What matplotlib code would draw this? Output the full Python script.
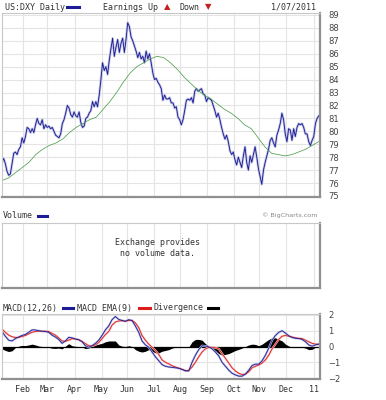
import numpy as np
import matplotlib.pyplot as plt

# date span (trading days)
start = '2010-01-07'
end_excl = '2011-01-08'
month_starts = ['2010-02-01', '2010-03-01', '2010-04-01', '2010-05-03', '2010-06-01',
                '2010-07-01', '2010-08-02', '2010-09-01', '2010-10-01', '2010-11-01',
                '2010-12-01', '2011-01-03']
month_labels = ['Feb', 'Mar', 'Apr', 'May', 'Jun', 'Jul', 'Aug', 'Sep', 'Oct', 'Nov', 'Dec', '11']

# US:DXY daily close
close = [77.6, 77.9, 77.5, 76.9, 76.6, 76.7, 77.5, 78.3, 78.4, 78.2, 78.6, 78.8, 79.5, 79.1, 79.6,
         80.3, 80.2, 79.9, 80.2, 79.9, 80.5, 81.0, 80.6, 80.5, 80.9, 80.2, 80.5, 80.3, 80.4, 80.2,
         80.3, 80.0, 79.7, 79.6, 79.5, 79.8, 80.6, 80.9, 81.4, 82.0, 81.8, 81.3, 81.1, 81.5, 81.2,
         81.1, 81.5,
         80.7, 80.3, 80.4, 81.0, 81.1, 81.4, 81.6, 82.3, 81.9, 82.3, 81.9, 82.8, 84.0, 85.3, 84.7,
         85.0, 84.4, 85.5, 86.4, 87.2, 85.8, 86.5, 87.1, 86.1, 86.8, 87.2, 86.1, 87.1, 88.4, 88.1,
         87.3, 87.0, 86.6, 86.2, 85.7, 86.1, 85.6, 85.8, 85.3, 86.2, 85.6, 86.0, 85.3, 84.5, 84.0,
         84.1, 83.8,
         83.6, 83.3, 82.4, 82.8, 82.5, 82.5, 82.6, 82.2, 82.2, 81.8, 81.9, 81.1, 80.9, 80.5, 80.9,
         81.6, 82.4, 82.5, 82.4, 82.6, 82.2, 83.1, 83.3, 83.1, 83.2, 83.3, 82.9, 82.8, 82.3, 82.6,
         82.5, 82.4, 82.0, 81.6, 81.1, 81.4, 80.9, 80.3, 79.8, 79.4, 79.7, 79.2, 78.5, 78.2, 78.4,
         77.8, 77.4,
         78.0, 77.6, 77.2, 78.1, 78.8, 77.6, 77.0, 78.1, 77.6, 78.2, 78.8, 78.0, 77.1, 76.5, 75.9,
         77.0, 77.6, 78.1, 78.6, 79.3, 79.5, 79.1, 78.8, 79.7, 80.1, 80.6, 81.4, 80.9, 79.8, 79.2,
         80.2, 80.1, 79.3, 80.2, 79.6, 80.3, 80.6, 80.5, 80.6, 80.3, 79.8, 79.8, 79.2, 78.9, 79.3,
         79.6, 80.6, 81.0, 81.2]

# moving average (green)
ma = [76.2, 76.4, 76.8, 77.2, 77.6, 78.2, 78.6, 78.9, 79.1, 79.4, 79.9, 80.3, 80.6, 80.9, 81.1,
      81.7, 82.3, 83.0, 83.8, 84.5, 85.0, 85.3, 85.6, 85.8, 85.7, 85.3, 84.8, 84.2, 83.7, 83.2,
      82.8, 82.5, 82.1, 81.7, 81.4, 81.0, 80.5, 80.2, 79.5, 78.8, 78.3, 78.2, 78.1, 78.2, 78.4,
      78.6, 78.9, 79.2]

# MACD(12,26) and its EMA(9)
macd = [0.95, 0.65, 0.4, 0.35, 0.5, 0.6, 0.7, 0.76, 0.9, 1.05, 1.05, 1.0, 0.97, 0.95, 0.9, 0.72,
        0.6, 0.45, 0.2, 0.35, 0.58, 0.55, 0.48, 0.43, 0.3, 0.05, -0.05, 0.05, 0.2, 0.4, 0.7, 1.05,
        1.3, 1.7, 1.9, 1.72, 1.65, 1.6, 1.7, 1.65, 1.3, 0.9, 0.35, 0.1, -0.05, -0.35, -0.65, -0.9,
        -1.15, -1.25, -1.3, -1.32, -1.35, -1.38, -1.45, -1.55, -1.55, -1.0, -0.55, -0.2, 0.05, 0.03,
        -0.02, -0.15, -0.35, -0.6, -1.0, -1.25, -1.5, -1.7, -1.8, -1.88, -1.88, -1.75, -1.5, -1.2,
        -1.12, -1.12, -0.9, -0.55, -0.1, 0.4, 0.7, 0.9, 1.0, 0.85, 0.68, 0.57, 0.52, 0.5, 0.45, 0.3,
        0.1, 0.02, 0.1, 0.15]
signal = [1.1, 0.9, 0.72, 0.62, 0.57, 0.58, 0.63, 0.7, 0.8, 0.9, 0.95, 0.97, 0.97, 0.97, 0.95, 0.83,
          0.72, 0.55, 0.35, 0.33, 0.4, 0.5, 0.47, 0.43, 0.33, 0.18, 0.05, 0.03, 0.1, 0.25, 0.5, 0.75,
          0.95, 1.35, 1.55, 1.62, 1.63, 1.6, 1.65, 1.65, 1.5, 1.2, 0.7, 0.4, 0.15, -0.05, -0.25, -0.5,
          -0.85, -1.0, -1.1, -1.22, -1.3, -1.37, -1.45, -1.52, -1.52, -1.3, -1.0, -0.65, -0.35, -0.15,
          -0.05, -0.05, -0.08, -0.15, -0.45, -0.75, -1.05, -1.35, -1.55, -1.7, -1.78, -1.75, -1.6, -1.35,
          -1.25, -1.17, -1.05, -0.85, -0.55, -0.15, 0.15, 0.45, 0.65, 0.7, 0.65, 0.6, 0.55, 0.52, 0.5,
          0.4, 0.3, 0.2, 0.15, 0.15]

price_ticks = list(range(75, 90))
macd_ticks = [-2, -1, 0, 1, 2]

ndays = int(np.busday_count(start, end_excl))
mpos = np.busday_count(start, month_starts)
diverg = np.array(macd) - np.array(signal)

W, H = 386, 400
mono = 'DejaVu Sans Mono'
navy = '#1c1c96'


def box(x0, y0, x1, y1):
    return [x0 / W, 1 - y1 / H, (x1 - x0) / W, (y1 - y0) / H]


def frame(a):
    a.set_xlim(0, ndays)
    for s in ['left', 'top']:
        a.spines[s].set_color('#c8c8c8')
        a.spines[s].set_linewidth(0.8)
    for s in ['right', 'bottom']:
        a.spines[s].set_color('#909090')
        a.spines[s].set_linewidth(1.6)
    a.set_xticks(mpos)
    a.set_xticklabels([])
    a.tick_params(length=0)
    a.grid(color='#e4e4e4', lw=0.8)
    a.set_axisbelow(True)


fig = plt.figure(figsize=(3.86, 4.0), dpi=100)

# price panel
ax = fig.add_axes(box(2, 13, 320, 197))
frame(ax)
xc = np.linspace(0, ndays - 1, len(close))
ax.plot(xc, close, color='#c4c7e4', lw=1.8)
ax.plot(xc, close, color=navy, lw=0.65)
ax.plot(np.linspace(0, ndays - 1, len(ma)), ma, color='#4f9f4f', lw=0.55)
ax.set_ylim(74.92, 89.15)
ax.set_yticks(price_ticks)
ax.yaxis.tick_right()
ax.tick_params(axis='y', labelsize=6, labelcolor='#444444', pad=6)

# volume panel
av = fig.add_axes(box(2, 223, 320, 288))
frame(av)
av.grid(axis='y', visible=False)
av.set_yticks([])
av.text(0.49, 0.62, 'Exchange provides\nno volume data.', transform=av.transAxes,
        ha='center', va='center', fontsize=6, family=mono, color='#333333', linespacing=1.3)

# MACD panel
am = fig.add_axes(box(2, 314, 320, 379))
frame(am)
xm = np.linspace(0, ndays - 1, len(macd))
am.fill_between(xm, 0, diverg, color='black', lw=0)
am.axhline(0, color='black', lw=0.9)
am.plot(xm, signal, color='#f4c0c0', lw=1.5)
am.plot(xm, macd, color='#bcbee2', lw=1.5)
am.plot(xm, signal, color='#dd1c1c', lw=0.6)
am.plot(xm, macd, color=navy, lw=0.6)
am.set_ylim(-2.06, 2.06)
am.set_yticks(macd_ticks)
am.yaxis.tick_right()
am.tick_params(axis='y', labelsize=6, labelcolor='#444444', pad=6)
am.set_xticklabels(month_labels, family=mono, fontsize=6, color='#333333')
am.tick_params(axis='x', pad=4)


def ftext(x, y, s, **kw):
    kw.setdefault('family', mono)
    kw.setdefault('fontsize', 6)
    kw.setdefault('color', '#333333')
    fig.text(x / W, 1 - y / H, s, va='center', **kw)


def dash(x0, x1, y, c):
    fig.add_artist(plt.Line2D([x0 / W, x1 / W], [1 - y / H, 1 - y / H], color=c, lw=2.2))


# header
ftext(5, 7, 'US:DXY Daily')
dash(67, 79, 7, navy)
ftext(103, 7, 'Earnings Up')
ftext(164, 7, '\u25b2', family='DejaVu Sans', color='#c42020', fontsize=6)
ftext(180, 7, 'Down')
ftext(205, 7, '\u25bc', family='DejaVu Sans', color='#c42020', fontsize=6)
ftext(316, 7, '1/07/2011', ha='right')

# volume header
ftext(3, 216, 'Volume')
dash(38, 47, 216, navy)
ftext(318, 215, '\u00a9 BigCharts.com', ha='right', family='DejaVu Sans', fontsize=4.6,
      color='#888888')

# MACD header
ftext(3, 308, 'MACD(12,26)')
dash(63, 73, 308, navy)
ftext(77, 308, 'MACD EMA(9)')
dash(139, 150, 308, '#dd1c1c')
ftext(153, 308, 'Divergence')
dash(208, 218, 308, 'black')

fig.savefig('out.png', dpi=100)
